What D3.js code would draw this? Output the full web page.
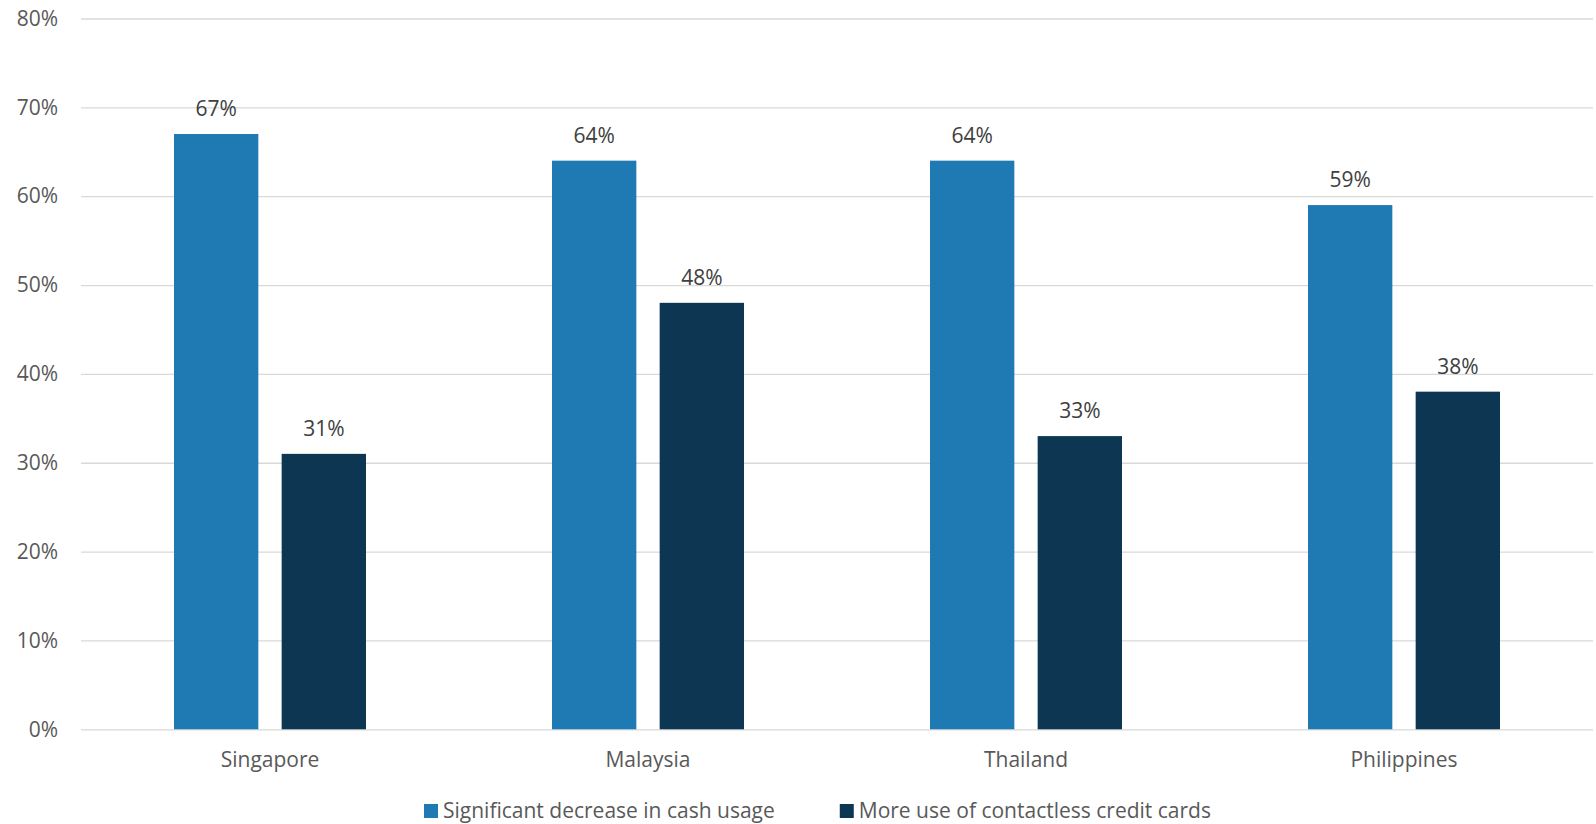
<!DOCTYPE html>
<html>
<head>
<meta charset="utf-8">
<script src="https://cdn.jsdelivr.net/npm/d3@7"></script>
<style>
  html, body { margin: 0; padding: 0; background: #ffffff; }
  svg { display: block; font-family: "Open Sans", "Noto Sans", sans-serif; }
</style>
</head>
<body>
<svg id="chart" width="1596" height="824"></svg>
<script>
// Share of respondents by country
const categories = ["Singapore", "Malaysia", "Thailand", "Philippines"];
const seriesNames = ["Significant decrease in cash usage", "More use of contactless credit cards"];
const cashDecrease = [67, 64, 64, 59];
const contactless = [31, 48, 33, 38];
const tickValues = [0, 10, 20, 30, 40, 50, 60, 70, 80];
const seriesColors = ["#1F7AB4", "#0D3652"];

const seriesValues = [cashDecrease, contactless];

const svg = d3.select("#chart");
const plot = { left: 81, right: 1593, top: 18.5, bottom: 729.3 };

const y = d3.scaleLinear().domain([0, 80]).range([plot.bottom, plot.top]);
const x0 = d3.scaleBand().domain(categories).range([plot.left, plot.right]).paddingInner(0).paddingOuter(0);
const groupWidth = 192;
const x1 = d3.scaleBand()
  .domain(d3.range(seriesNames.length))
  .range([(x0.bandwidth() - groupWidth) / 2, (x0.bandwidth() + groupWidth) / 2])
  .paddingInner(0.2166)
  .paddingOuter(0);

// Gridlines and percentage tick labels
const yAxis = d3.axisLeft(y)
  .tickValues(tickValues)
  .tickSize(-(plot.right - plot.left))
  .tickPadding(23)
  .tickFormat(d => d + "%");

const gy = svg.append("g")
  .attr("transform", `translate(${plot.left},0)`)
  .call(yAxis);
gy.select(".domain").remove();
gy.selectAll(".tick line").attr("stroke", "#D9D9D9").attr("stroke-width", 1.3);
gy.selectAll(".tick text")
  .attr("fill", "#595959")
  .attr("font-size", 21)
  .attr("font-family", "'Open Sans', sans-serif");

// Bars
const groups = svg.append("g").selectAll("g")
  .data(categories)
  .join("g")
  .attr("transform", d => `translate(${x0(d)},0)`);

const pointsFor = (d, i) => seriesValues.map((vals, s) => ({ s, v: vals[i] }));

groups.selectAll("rect")
  .data(pointsFor)
  .join("rect")
  .attr("x", d => x1(d.s))
  .attr("width", x1.bandwidth())
  .attr("y", d => y(d.v))
  .attr("height", d => y(0) - y(d.v))
  .attr("fill", d => seriesColors[d.s]);

// Value labels above bars
groups.selectAll("text.value")
  .data(pointsFor)
  .join("text")
  .attr("class", "value")
  .attr("x", d => x1(d.s) + x1.bandwidth() / 2)
  .attr("y", d => y(d.v) - 18)
  .attr("text-anchor", "middle")
  .attr("fill", "#404040")
  .attr("font-size", 21)
  .text(d => d.v + "%");

// Category labels
const xAxis = d3.axisBottom(x0).tickSize(0).tickPadding(0);
const gx = svg.append("g")
  .attr("transform", `translate(0,${plot.bottom})`)
  .call(xAxis);
gx.select(".domain").remove();
gx.selectAll(".tick text")
  .attr("fill", "#595959")
  .attr("font-size", 21)
  .attr("font-family", "'Open Sans', sans-serif")
  .attr("dy", null)
  .attr("y", 38);

// Legend
const legend = svg.append("g").attr("transform", "translate(424,818)");
let cursor = 0;
seriesNames.forEach((name, i) => {
  const item = legend.append("g").attr("transform", `translate(${cursor},0)`);
  item.append("rect")
    .attr("x", 0).attr("y", -14)
    .attr("width", 14).attr("height", 14)
    .attr("fill", seriesColors[i]);
  const t = item.append("text")
    .attr("x", 19).attr("y", 0)
    .attr("fill", "#595959")
    .attr("font-size", 21)
    .text(name);
  cursor += 19 + t.node().getComputedTextLength() + 65;
});
</script>
</body>
</html>
